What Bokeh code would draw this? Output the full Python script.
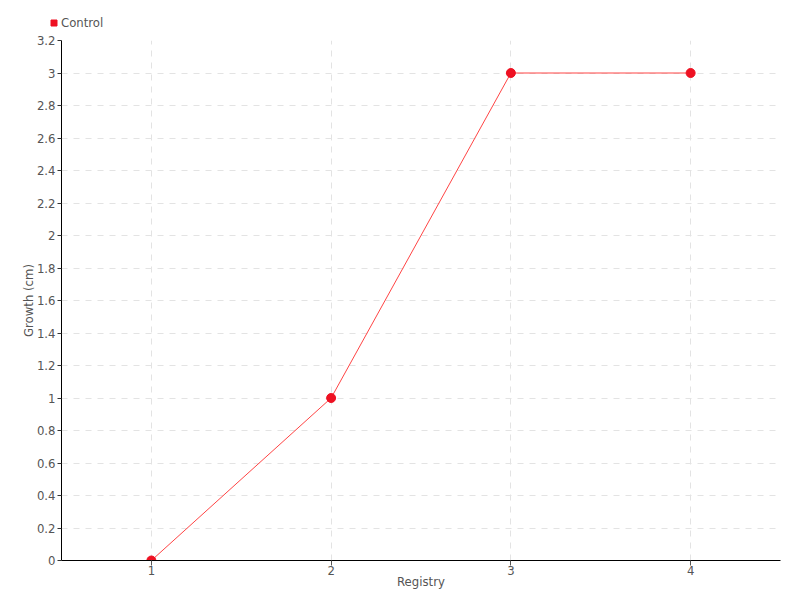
from bokeh.plotting import figure
from bokeh.models import Legend, LegendItem, ColumnDataSource, FixedTicker, Range1d
from bokeh.embed import file_html
from bokeh.resources import INLINE

registry = [1, 2, 3, 4]
growth = [0, 1, 3, 3]
y_ticks = [0, 0.2, 0.4, 0.6, 0.8, 1, 1.2, 1.4, 1.6, 1.8, 2, 2.2, 2.4, 2.6, 2.8, 3, 3.2]
series_name = "Control"

FONT = "DejaVu Sans Condensed"
TXT = "#555555"
RED = "#ee1122"

src = ColumnDataSource(dict(x=registry, y=growth))

# --- legend strip on top ---
top = figure(width=800, height=34, output_backend="svg", toolbar_location=None,
             x_range=Range1d(100, 101), y_range=Range1d(100, 101),
             x_axis_type=None, y_axis_type=None,
             min_border_left=0, min_border_right=0, min_border_top=0, min_border_bottom=0)
top.outline_line_color = None
top.xgrid.visible = False
top.ygrid.visible = False
dummy = top.scatter("x", "y", source=src, marker="square", size=6, fill_color=RED, line_color=RED)
legend = Legend(items=[LegendItem(label=series_name, renderers=[dummy])],
                orientation="horizontal", border_line_color=None, background_fill_alpha=0,
                label_text_font=FONT, label_text_color=TXT, label_text_font_size="13px",
                glyph_width=15, glyph_height=15, label_standoff=-2, padding=0, margin=0,
                label_height=16, location=(46, 4))
top.add_layout(legend, "center")

# --- main chart ---
p = figure(output_backend="svg", toolbar_location=None,
           x_range=Range1d(0.5, 4.5), y_range=Range1d(0, 3.2),
           frame_width=719, frame_height=520,
           min_border_left=61, min_border_right=20, min_border_top=6, min_border_bottom=40)
p.outline_line_color = None

p.line("x", "y", source=src, line_color="#ff4444", line_width=1)
p.scatter("x", "y", source=src, size=9, fill_color=RED, line_color=RED)

for ax in (p.xaxis[0], p.yaxis[0]):
    ax.axis_line_color = "black"
    ax.major_label_text_font = FONT
    ax.major_label_text_color = TXT
    ax.major_label_text_font_size = "13px"
    ax.axis_label_text_font = FONT
    ax.axis_label_text_color = TXT
    ax.axis_label_text_font_size = "13px"
    ax.axis_label_text_font_style = "normal"
    ax.minor_tick_line_color = None

p.xaxis.ticker = FixedTicker(ticks=registry)
p.xaxis.axis_label = "Registry"
p.xaxis.major_tick_in = 0
p.xaxis.major_tick_out = 5
p.xaxis.major_tick_line_color = "#555555"
p.xaxis.major_label_standoff = 0
p.xaxis.axis_label_standoff = -4

p.yaxis.ticker = FixedTicker(ticks=y_ticks)
p.yaxis.axis_label = "Growth (cm)"
p.yaxis.major_tick_in = 0
p.yaxis.major_tick_out = 4
p.yaxis.major_tick_line_color = "#333333"
p.yaxis.major_label_standoff = 2
p.yaxis.axis_label_standoff = -2

for g in (p.xgrid[0], p.ygrid[0]):
    g.grid_line_color = "#e3e3e3"
    g.grid_line_dash = "6 6"
    g.grid_line_width = 1

open("out.html", "w").write(file_html([top, p], INLINE))
